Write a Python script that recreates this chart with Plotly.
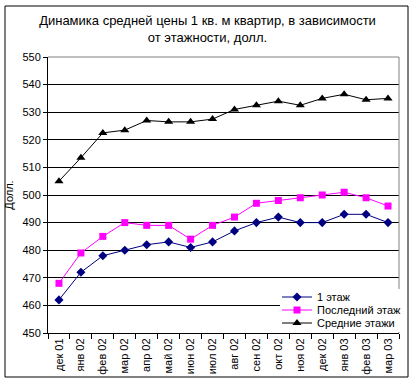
import plotly.graph_objects as go

months = ["дек 01", "янв 02", "фев 02", "мар 02", "апр 02", "май 02", "июн 02", "июл 02",
          "авг 02", "сен 02", "окт 02", "ноя 02", "дек 02", "янв 03", "фев 03", "мар 03"]
first_floor = [462, 472, 478, 480, 482, 483, 481, 483, 487, 490, 492, 490, 490, 493, 493, 490]
last_floor = [468, 479, 485, 490, 489, 489, 484, 489, 492, 497, 498, 499, 500, 501, 499, 496]
middle_floors = [505, 513.5, 522.5, 523.5, 527, 526.5, 526.5, 527.5, 531, 532.5, 534, 532.5, 535, 536.5, 534.5, 535]

FONT = "Arial, Liberation Sans, sans-serif"
W, H = 415, 384
L, R, T, B = 48, 16, 57, 51
pw, ph = W - L - R, H - T - B

fig = go.Figure()
fig.add_trace(go.Scatter(x=months, y=first_floor, name="1 этаж", mode="lines+markers",
                         line=dict(color="#000080", width=1), legend="legend",
                         marker=dict(symbol="diamond", size=7, color="#000080")))
fig.add_trace(go.Scatter(x=months, y=last_floor, name="Последний этаж", mode="lines+markers",
                         line=dict(color="#FF00FF", width=1), legend="legend2",
                         marker=dict(symbol="square", size=7, color="#FF00FF")))
fig.add_trace(go.Scatter(x=months, y=middle_floors, name="Средние этажи", mode="lines+markers",
                         line=dict(color="#000000", width=1), legend="legend3",
                         marker=dict(symbol="triangle-up", size=8, color="#000000")))

def px_x(x):
    return (x - L) / pw

def px_y(y):
    return (H - B - y) / ph

shapes = [
    dict(type="rect", xref="paper", yref="paper", x0=px_x(5), x1=px_x(408), y0=px_y(377), y1=px_y(6),
         line=dict(color="black", width=1), layer="below"),
    dict(type="line", xref="paper", yref="paper", x0=0, x1=1, y0=1, y1=1,
         line=dict(color="#808080", width=1)),
    dict(type="line", xref="paper", yref="paper", x0=1, x1=1, y0=0, y1=1,
         line=dict(color="#808080", width=1)),
    # white legend background
    dict(type="rect", xref="paper", yref="paper", x0=px_x(280), x1=px_x(405), y0=px_y(332), y1=px_y(289),
         line=dict(width=0), fillcolor="white", layer="above"),
]

def leg(ypix):
    return dict(x=px_x(277), xanchor="left", y=px_y(ypix), yanchor="middle",
                bgcolor="rgba(0,0,0,0)", borderwidth=0, font=dict(family=FONT, size=11),
                itemwidth=30)

fig.update_layout(
    width=W, height=H,
    margin=dict(l=L, r=R, t=T, b=B, autoexpand=False),
    paper_bgcolor="white", plot_bgcolor="white",
    font=dict(family=FONT, size=11, color="black"),
    title=dict(text="Динамика средней цены 1 кв. м квартир, в зависимости<br>от этажности, долл.",
               x=0.5, xanchor="center", y=1 - 25 / H, yanchor="top",
               font=dict(family=FONT, size=13, color="black")),
    showlegend=True,
    legend=leg(297), legend2=leg(310), legend3=leg(323),
    shapes=shapes,
    xaxis=dict(type="category", showgrid=False, showline=True, linecolor="black", linewidth=1,
               ticks="outside", tickson="boundaries", ticklen=5, tickcolor="black",
               tickangle=-90, tickfont=dict(family=FONT, size=11), range=[-0.5, 15.5],
               automargin=False),
    yaxis=dict(range=[450, 550], dtick=10, showgrid=True, gridcolor="black", gridwidth=1,
               showline=True, linecolor="black", linewidth=1, ticks="outside", ticklen=4,
               tickcolor="black", zeroline=False, tickfont=dict(family=FONT, size=11),
               automargin=False,
               title=dict(text="Долл.", font=dict(family=FONT, size=11), standoff=6)),
)

fig.write_html("out.html", config={"displayModeBar": False},
               post_script="document.body.style.margin='0';")
